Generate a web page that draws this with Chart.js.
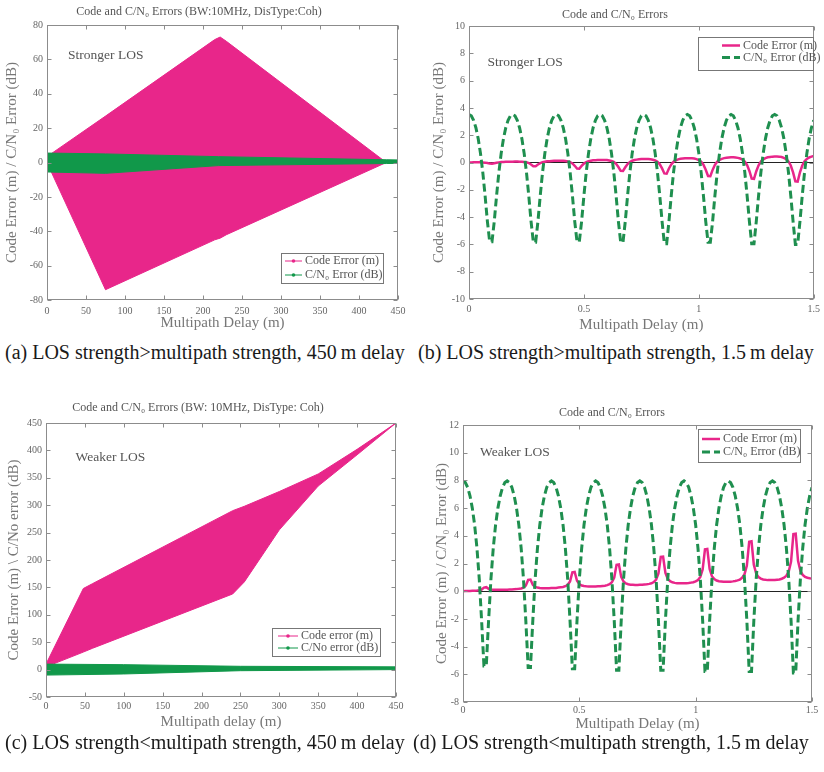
<!DOCTYPE html>
<html>
<head>
<meta charset="utf-8">
<title>Code and C/N0 Errors</title>
<script src="https://cdn.jsdelivr.net/npm/chart.js@4.4.1/dist/chart.umd.min.js"></script>
<style>
  html, body { margin: 0; padding: 0; background: #fff; }
  body { width: 824px; height: 772px; position: relative; overflow: hidden; font-family: "Liberation Serif", "DejaVu Serif", serif; }
  .panel { position: absolute; }
  .caption { position: absolute; font-size: 20px; line-height: 24px; color: #1a1a1a; white-space: nowrap; }
</style>
</head>
<body>
<div class="panel" style="left:0;top:0"><canvas id="chartA" width="412" height="334"></canvas></div>
<div class="panel" style="left:412px;top:0"><canvas id="chartB" width="412" height="334"></canvas></div>
<div class="panel" style="left:0;top:390px"><canvas id="chartC" width="412" height="344"></canvas></div>
<div class="panel" style="left:412px;top:390px"><canvas id="chartD" width="412" height="344"></canvas></div>

<div class="caption" style="left:5px;top:340px">(a) LOS strength&gt;multipath strength, 450&#8201;m delay</div>
<div class="caption" style="left:418px;top:340px">(b) LOS strength&gt;multipath strength, 1.5&#8201;m delay</div>
<div class="caption" style="left:5px;top:730px">(c) LOS strength&lt;multipath strength, 450&#8201;m delay</div>
<div class="caption" style="left:413px;top:730px">(d) LOS strength&lt;multipath strength, 1.5&#8201;m delay</div>

<script>
(function () {
  'use strict';

  const SERIF = '"Liberation Serif", "DejaVu Serif", serif';
  const PINK = '#e8268a';
  const GREEN = '#11984a';
  const GREEN_LINE = '#1f8f4f';

  // ── (a) stronger LOS, 450 m: envelope of the code error and C/N0 error ──
  const delayA = [0, 5, 75, 215, 222, 230, 435, 450];
  const codeUpperA = [2, 5, 27, 71.5, 73, 70.5, 0, 0];
  const codeLowerA = [-2, -5, -74, -45, -44, -42, 0, 0];
  const cnoDelayA = [0, 75, 220, 435, 450];
  const cnoUpperA = [5.5, 5, 3.4, 1.6, 1.5];
  const cnoLowerA = [-5.5, -6.3, -1.8, -0.6, -0.5];

  // ── (c) weaker LOS, 450 m ──
  const delayC = [0, 48, 60, 240, 255, 300, 350, 400, 450];
  const codeUpperC = [10, 148, 157, 290, 298, 325, 357, 402, 450];
  const codeLowerC = [5, 32, 39, 138, 160, 255, 335, 392, 450];
  const cnoDelayC = [0, 100, 250, 450];
  const cnoUpperC = [10, 9, 6, 5];
  const cnoLowerC = [-10, -8, -2, 0];

  // ── (b)/(d) 0 – 1.5 m delay ──
  const delayFine = [
    0, 0.01, 0.02, 0.03, 0.04, 0.05, 0.06, 0.07, 0.08, 0.09,
    0.10, 0.11, 0.12, 0.13, 0.14, 0.15, 0.16, 0.17, 0.18, 0.19,
    0.20, 0.21, 0.22, 0.23, 0.24, 0.25, 0.26, 0.27, 0.28, 0.29,
    0.30, 0.31, 0.32, 0.33, 0.34, 0.35, 0.36, 0.37, 0.38, 0.39,
    0.40, 0.41, 0.42, 0.43, 0.44, 0.45, 0.46, 0.47, 0.48, 0.49,
    0.50, 0.51, 0.52, 0.53, 0.54, 0.55, 0.56, 0.57, 0.58, 0.59,
    0.60, 0.61, 0.62, 0.63, 0.64, 0.65, 0.66, 0.67, 0.68, 0.69,
    0.70, 0.71, 0.72, 0.73, 0.74, 0.75, 0.76, 0.77, 0.78, 0.79,
    0.80, 0.81, 0.82, 0.83, 0.84, 0.85, 0.86, 0.87, 0.88, 0.89,
    0.90, 0.91, 0.92, 0.93, 0.94, 0.95, 0.96, 0.97, 0.98, 0.99,
    1.00, 1.01, 1.02, 1.03, 1.04, 1.05, 1.06, 1.07, 1.08, 1.09,
    1.10, 1.11, 1.12, 1.13, 1.14, 1.15, 1.16, 1.17, 1.18, 1.19,
    1.20, 1.21, 1.22, 1.23, 1.24, 1.25, 1.26, 1.27, 1.28, 1.29,
    1.30, 1.31, 1.32, 1.33, 1.34, 1.35, 1.36, 1.37, 1.38, 1.39,
    1.40, 1.41, 1.42, 1.43, 1.44, 1.45, 1.46, 1.47, 1.48, 1.49,
    1.50
  ];

  const codeB = [
    0, 0, 0.01, 0.01, 0.01, 0.01, 0, -0.01, -0.04, -0.08, -0.09, -0.06, -0.02, 0.01, 0.03, 0.04, 0.05, 0.05, 0.06,
    0.06, 0.07, 0.07, 0.06, 0.06, 0.04, 0.02, -0.04, -0.14, -0.27, -0.28, -0.15, -0.05, 0.02, 0.06, 0.09, 0.10, 0.11, 0.12,
    0.13, 0.13, 0.13, 0.12, 0.11, 0.08, 0.03, -0.07, -0.24, -0.44, -0.45, -0.25, -0.08, 0.03, 0.09, 0.13, 0.16, 0.17, 0.18,
    0.19, 0.19, 0.19, 0.18, 0.15, 0.11, 0.04, -0.10, -0.33, -0.61, -0.62, -0.35, -0.11, 0.04, 0.13, 0.18, 0.21, 0.23, 0.25,
    0.25, 0.25, 0.25, 0.23, 0.20, 0.15, 0.05, -0.13, -0.43, -0.80, -0.82, -0.44, -0.14, 0.05, 0.16, 0.23, 0.27, 0.29, 0.31,
    0.32, 0.32, 0.31, 0.29, 0.25, 0.18, 0.06, -0.16, -0.53, -0.99, -1.00, -0.54, -0.17, 0.06, 0.20, 0.27, 0.32, 0.35, 0.37,
    0.38, 0.38, 0.37, 0.34, 0.29, 0.21, 0.07, -0.19, -0.62, -1.18, -1.20, -0.64, -0.20, 0.07, 0.23, 0.32, 0.38, 0.41, 0.43,
    0.44, 0.44, 0.43, 0.40, 0.34, 0.25, 0.08, -0.22, -0.72, -1.38, -1.40, -0.73, -0.22, 0.09, 0.26, 0.37, 0.43, 0.47
  ];
  const cnoB = [
    3.52, 3.42, 3.09, 2.55, 1.75, 0.67, -0.72, -2.42, -4.31, -5.80, -5.80, -4.31, -2.42, -0.72, 0.67, 1.75, 2.55, 3.09, 3.42,
    3.52, 3.42, 3.09, 2.55, 1.75, 0.67, -0.72, -2.42, -4.31, -5.85, -5.85, -4.31, -2.42, -0.72, 0.67, 1.75, 2.55, 3.09, 3.42,
    3.52, 3.42, 3.09, 2.55, 1.75, 0.67, -0.72, -2.42, -4.31, -5.80, -5.80, -4.31, -2.42, -0.72, 0.67, 1.75, 2.55, 3.09, 3.42,
    3.52, 3.42, 3.09, 2.55, 1.75, 0.67, -0.72, -2.42, -4.31, -5.85, -5.85, -4.31, -2.42, -0.72, 0.67, 1.75, 2.55, 3.09, 3.42,
    3.52, 3.42, 3.09, 2.55, 1.75, 0.67, -0.72, -2.42, -4.31, -5.95, -5.95, -4.31, -2.42, -0.72, 0.67, 1.75, 2.55, 3.09, 3.42,
    3.52, 3.42, 3.09, 2.55, 1.75, 0.67, -0.72, -2.42, -4.31, -5.85, -5.85, -4.31, -2.42, -0.72, 0.67, 1.75, 2.55, 3.09, 3.42,
    3.52, 3.42, 3.09, 2.55, 1.75, 0.67, -0.72, -2.42, -4.31, -5.95, -5.95, -4.31, -2.42, -0.72, 0.67, 1.75, 2.55, 3.09, 3.42,
    3.52, 3.42, 3.09, 2.55, 1.75, 0.67, -0.72, -2.42, -4.31, -6.00, -6.00, -4.31, -2.42, -0.72, 0.67, 1.75, 2.55, 3.09
  ];

  const codeD = [
    0, 0.01, 0.01, 0.02, 0.03, 0.04, 0.05, 0.07, 0.12, 0.26, 0.29, 0.17, 0.12, 0.11, 0.10, 0.10, 0.10, 0.10, 0.11,
    0.11, 0.12, 0.13, 0.14, 0.15, 0.17, 0.20, 0.26, 0.41, 0.81, 0.84, 0.46, 0.31, 0.26, 0.23, 0.22, 0.22, 0.22, 0.22,
    0.23, 0.24, 0.24, 0.26, 0.28, 0.30, 0.36, 0.46, 0.70, 1.36, 1.39, 0.75, 0.51, 0.41, 0.37, 0.35, 0.34, 0.34, 0.34,
    0.34, 0.35, 0.36, 0.38, 0.40, 0.44, 0.51, 0.65, 0.99, 1.91, 1.94, 1.03, 0.70, 0.56, 0.50, 0.47, 0.46, 0.45, 0.45,
    0.46, 0.46, 0.48, 0.50, 0.53, 0.57, 0.66, 0.84, 1.28, 2.47, 2.49, 1.32, 0.89, 0.72, 0.64, 0.60, 0.58, 0.57, 0.57,
    0.57, 0.58, 0.59, 0.62, 0.65, 0.71, 0.81, 1.03, 1.57, 3.02, 3.05, 1.61, 1.08, 0.87, 0.77, 0.72, 0.70, 0.68, 0.68,
    0.68, 0.69, 0.71, 0.74, 0.78, 0.84, 0.97, 1.23, 1.85, 3.57, 3.60, 1.90, 1.28, 1.02, 0.91, 0.85, 0.82, 0.80, 0.80,
    0.80, 0.81, 0.83, 0.85, 0.90, 0.98, 1.12, 1.42, 2.14, 4.12, 4.15, 2.19, 1.47, 1.18, 1.04, 0.97, 0.94, 0.92
  ];
  const cnoD = [
    7.96, 7.84, 7.50, 6.89, 6.00, 4.78, 3.10, 0.86, -2.13, -5.40, -5.40, -2.13, 0.86, 3.10, 4.78, 6.00, 6.89, 7.50, 7.84,
    7.96, 7.84, 7.50, 6.89, 6.00, 4.78, 3.10, 0.86, -2.13, -5.50, -5.50, -2.13, 0.86, 3.10, 4.78, 6.00, 6.89, 7.50, 7.84,
    7.96, 7.84, 7.50, 6.89, 6.00, 4.78, 3.10, 0.86, -2.13, -5.60, -5.60, -2.13, 0.86, 3.10, 4.78, 6.00, 6.89, 7.50, 7.84,
    7.96, 7.84, 7.50, 6.89, 6.00, 4.78, 3.10, 0.86, -2.13, -5.70, -5.70, -2.13, 0.86, 3.10, 4.78, 6.00, 6.89, 7.50, 7.84,
    7.96, 7.84, 7.50, 6.89, 6.00, 4.78, 3.10, 0.86, -2.13, -5.70, -5.70, -2.13, 0.86, 3.10, 4.78, 6.00, 6.89, 7.50, 7.84,
    7.96, 7.84, 7.50, 6.89, 6.00, 4.78, 3.10, 0.86, -2.13, -5.80, -5.80, -2.13, 0.86, 3.10, 4.78, 6.00, 6.89, 7.50, 7.84,
    7.96, 7.84, 7.50, 6.89, 6.00, 4.78, 3.10, 0.86, -2.13, -5.80, -5.80, -2.13, 0.86, 3.10, 4.78, 6.00, 6.89, 7.50, 7.84,
    7.96, 7.84, 7.50, 6.89, 6.00, 4.78, 3.10, 0.86, -2.13, -5.90, -5.90, -2.13, 0.86, 3.10, 4.78, 6.00, 6.89, 7.50
  ];

  const pts = (xs, ys) => xs.map((x, i) => ({ x: x, y: ys[i] }));
  const fmt = v => String(Number(v.toFixed(2)));

  // ── plugins ──
  // matlab style frame with inward tick marks on all four sides
  const matlabFrame = {
    id: 'matlabFrame',
    afterDatasetsDraw(chart) {
      const { ctx, chartArea: a, scales: { x, y } } = chart;
      const L = Math.round(a.left) + 0.5, R = Math.round(a.right) - 0.5;
      const T = Math.round(a.top) + 0.5, B = Math.round(a.bottom) - 0.5;
      ctx.save();
      ctx.strokeStyle = '#8c8c8c';
      ctx.lineWidth = 1;
      ctx.strokeRect(L, T, R - L, B - T);
      ctx.beginPath();
      x.ticks.forEach(t => {
        const px = Math.round(x.getPixelForValue(t.value)) + 0.5;
        ctx.moveTo(px, B); ctx.lineTo(px, B - 4);
        ctx.moveTo(px, T); ctx.lineTo(px, T + 4);
      });
      y.ticks.forEach(t => {
        const py = Math.round(y.getPixelForValue(t.value)) + 0.5;
        ctx.moveTo(L, py); ctx.lineTo(L + 4, py);
        ctx.moveTo(R, py); ctx.lineTo(R - 4, py);
      });
      ctx.stroke();
      ctx.restore();
    }
  };

  // legend box drawn inside the plot area
  const boxLegend = {
    id: 'boxLegend',
    afterDraw(chart, args, opts) {
      if (!opts || !opts.items) return;
      const { ctx, chartArea: a } = chart;
      const left = a.left + opts.left, top = a.top + opts.top;
      ctx.save();
      ctx.fillStyle = '#fff';
      ctx.fillRect(left, top, opts.width, opts.height);
      ctx.strokeStyle = '#777';
      ctx.lineWidth = 1;
      ctx.strokeRect(Math.round(left) + 0.5, Math.round(top) + 0.5, opts.width, opts.height);
      ctx.font = '12px ' + SERIF;
      ctx.textBaseline = 'middle';
      opts.items.forEach((idx, i) => {
        const ds = chart.data.datasets[idx];
        const cy = top + opts.firstRow + i * opts.rowGap;
        const x0 = left + opts.lineLeft, x1 = x0 + opts.lineLen;
        ctx.strokeStyle = ds.borderColor;
        ctx.lineWidth = opts.lineWidth || ds.borderWidth;
        ctx.setLineDash(opts.marker ? [] : (ds.borderDash || []));
        ctx.beginPath();
        ctx.moveTo(x0, cy); ctx.lineTo(x1, cy);
        ctx.stroke();
        ctx.setLineDash([]);
        if (opts.marker) {
          ctx.fillStyle = ds.borderColor;
          ctx.beginPath();
          ctx.arc((x0 + x1) / 2, cy, 1.8, 0, Math.PI * 2);
          ctx.fill();
        }
        ctx.fillStyle = '#555';
        ctx.fillText(ds.label, x1 + 3, cy);
      });
      ctx.restore();
    }
  };

  // "Stronger LOS" / "Weaker LOS" note, placed in data coordinates
  const losNote = {
    id: 'losNote',
    afterDraw(chart, args, opts) {
      if (!opts || !opts.text) return;
      const { ctx, scales: { x, y } } = chart;
      ctx.save();
      ctx.font = '13.5px ' + SERIF;
      ctx.fillStyle = '#555';
      ctx.textBaseline = 'middle';
      ctx.fillText(opts.text, x.getPixelForValue(opts.x), y.getPixelForValue(opts.y));
      ctx.restore();
    }
  };

  function buildOptions(cfg) {
    return {
      responsive: false,
      animation: false,
      events: [],
      layout: { padding: { left: 0, right: cfg.padRight, top: 0, bottom: 0 } },
      elements: { point: { radius: 0 }, line: { tension: 0 } },
      plugins: {
        legend: { display: false },
        tooltip: { enabled: false },
        title: {
          display: true,
          text: cfg.title,
          color: '#555',
          font: { family: SERIF, size: 12, weight: 'normal' },
          padding: { top: cfg.titlePad[0], bottom: cfg.titlePad[1] }
        },
        boxLegend: cfg.legend,
        losNote: cfg.note
      },
      scales: {
        x: {
          type: 'linear',
          min: cfg.xRange[0],
          max: cfg.xRange[1],
          afterFit: s => { s.height = cfg.xHeight; },
          grid: { display: false, drawTicks: false },
          border: { display: false },
          ticks: {
            stepSize: cfg.xStep,
            autoSkip: false,
            maxRotation: 0,
            padding: cfg.xTickPad,
            color: '#666',
            font: { family: SERIF, size: 10 },
            callback: fmt
          },
          title: {
            display: true,
            text: cfg.xTitle,
            color: '#777',
            font: { family: SERIF, size: 15 },
            padding: { top: 0, bottom: cfg.xTitlePad }
          }
        },
        y: {
          type: 'linear',
          min: cfg.yRange[0],
          max: cfg.yRange[1],
          afterFit: s => { s.width = cfg.yWidth; },
          grid: {
            display: !!cfg.zeroLine,
            drawTicks: false,
            color: c => (c.tick && c.tick.value === 0 ? '#222' : 'rgba(0,0,0,0)'),
            lineWidth: 1
          },
          border: { display: false },
          ticks: {
            stepSize: cfg.yStep,
            autoSkip: false,
            padding: 4,
            color: '#666',
            font: { family: SERIF, size: 10 },
            callback: fmt
          },
          title: {
            display: true,
            text: cfg.yTitle,
            color: '#777',
            font: { family: SERIF, size: 15 },
            padding: { top: cfg.yTitlePad, bottom: 0 }
          }
        }
      }
    };
  }

  function envelopeSets(codeLabel, cnoLabel, xs, up, lo, gx, gup, glo) {
    return [
      { label: codeLabel, data: pts(xs, up), borderColor: PINK, backgroundColor: PINK, borderWidth: 1, fill: '+1', order: 2 },
      { label: codeLabel, data: pts(xs, lo), borderColor: PINK, backgroundColor: PINK, borderWidth: 1, fill: false, order: 2 },
      { label: cnoLabel, data: pts(gx, gup), borderColor: GREEN, backgroundColor: GREEN, borderWidth: 1, fill: '+1', order: 1 },
      { label: cnoLabel, data: pts(gx, glo), borderColor: GREEN, backgroundColor: GREEN, borderWidth: 1, fill: false, order: 1 }
    ];
  }

  function curveSets(code, cno) {
    return [
      { label: 'Code Error (m)', data: pts(delayFine, code), borderColor: PINK, borderWidth: 2.5, fill: false, order: 2 },
      { label: 'C/N\u2080 Error (dB)', data: pts(delayFine, cno), borderColor: GREEN_LINE, borderWidth: 3, borderDash: [8, 4], fill: false, order: 1 }
    ];
  }

  const plugins = [matlabFrame, boxLegend, losNote];

  // ── (a) ──
  new Chart(document.getElementById('chartA'), {
    type: 'line',
    data: { datasets: envelopeSets('Code Error (m)', 'C/N\u2080 Error (dB)', delayA, codeUpperA, codeLowerA, cnoDelayA, cnoUpperA, cnoLowerA) },
    options: buildOptions({
      title: 'Code and C/N\u2080 Errors (BW:10MHz, DisType:Coh)',
      titlePad: [4.5, 6.1],
      padRight: 14,
      xRange: [0, 450], xStep: 50, xHeight: 34, xTickPad: 5, xTitlePad: 1.5,
      xTitle: 'Multipath Delay (m)',
      yRange: [-80, 80], yStep: 20, yWidth: 47, yTitlePad: 3.4,
      yTitle: 'Code Error (m) / C/N\u2080 Error (dB)',
      legend: { items: [0, 2], left: 234, top: 228, width: 102, height: 30, firstRow: 8, rowGap: 14, lineLeft: 4, lineLen: 17, lineWidth: 1, marker: true },
      note: { text: 'Stronger LOS', x: 27, y: 62 }
    }),
    plugins: plugins
  });

  // ── (b) ──
  new Chart(document.getElementById('chartB'), {
    type: 'line',
    data: { datasets: curveSets(codeB, cnoB) },
    options: buildOptions({
      title: 'Code and C/N\u2080 Errors',
      titlePad: [7.8, 3.8],
      padRight: 6,
      xRange: [0, 1.5], xStep: 0.5, xHeight: 35, xTickPad: 4, xTitlePad: 0,
      xTitle: 'Multipath Delay (m)',
      yRange: [-10, 10], yStep: 2, yWidth: 57, yTitlePad: 18.4,
      yTitle: 'Code Error (m) / C/N\u2080 Error (dB)',
      zeroLine: true,
      legend: { items: [0, 1], left: 229, top: 11, width: 115, height: 33, firstRow: 8.5, rowGap: 12, lineLeft: 24, lineLen: 18 },
      note: { text: 'Stronger LOS', x: 0.08, y: 7.3 }
    }),
    plugins: plugins
  });

  // ── (c) ──
  new Chart(document.getElementById('chartC'), {
    type: 'line',
    data: { datasets: envelopeSets('Code error (m)', 'C/No error (dB)', delayC, codeUpperC, codeLowerC, cnoDelayC, cnoUpperC, cnoLowerC) },
    options: buildOptions({
      title: 'Code and C/N\u2080 Errors (BW: 10MHz, DisType: Coh)',
      titlePad: [10.8, 7.8],
      padRight: 16,
      xRange: [0, 450], xStep: 50, xHeight: 37, xTickPad: 3, xTitlePad: 3,
      xTitle: 'Multipath delay (m)',
      yRange: [-50, 450], yStep: 50, yWidth: 46, yTitlePad: 5.4,
      yTitle: 'Code Error (m) \\ C/No error (dB)',
      legend: { items: [0, 2], left: 226, top: 205, width: 108, height: 28, firstRow: 8, rowGap: 12, lineLeft: 6, lineLen: 20, lineWidth: 1, marker: true },
      note: { text: 'Weaker LOS', x: 38, y: 388 }
    }),
    plugins: plugins
  });

  // ── (d) ──
  new Chart(document.getElementById('chartD'), {
    type: 'line',
    data: { datasets: curveSets(codeD, cnoD) },
    options: buildOptions({
      title: 'Code and C/N\u2080 Errors',
      titlePad: [15.8, 4.8],
      padRight: 12,
      xRange: [0, 1.5], xStep: 0.5, xHeight: 32, xTickPad: 2, xTitlePad: 1,
      xTitle: 'Multipath Delay (m)',
      yRange: [-8, 12], yStep: 2, yWidth: 51, yTitlePad: 21.4,
      yTitle: 'Code Error (m) / C/N\u2080 Error (dB)',
      zeroLine: true,
      legend: { items: [0, 1], left: 235, top: 4, width: 102, height: 33, firstRow: 10, rowGap: 13, lineLeft: 4, lineLen: 18 },
      note: { text: 'Weaker LOS', x: 0.073, y: 10.05 }
    }),
    plugins: plugins
  });
})();
</script>
</body>
</html>
